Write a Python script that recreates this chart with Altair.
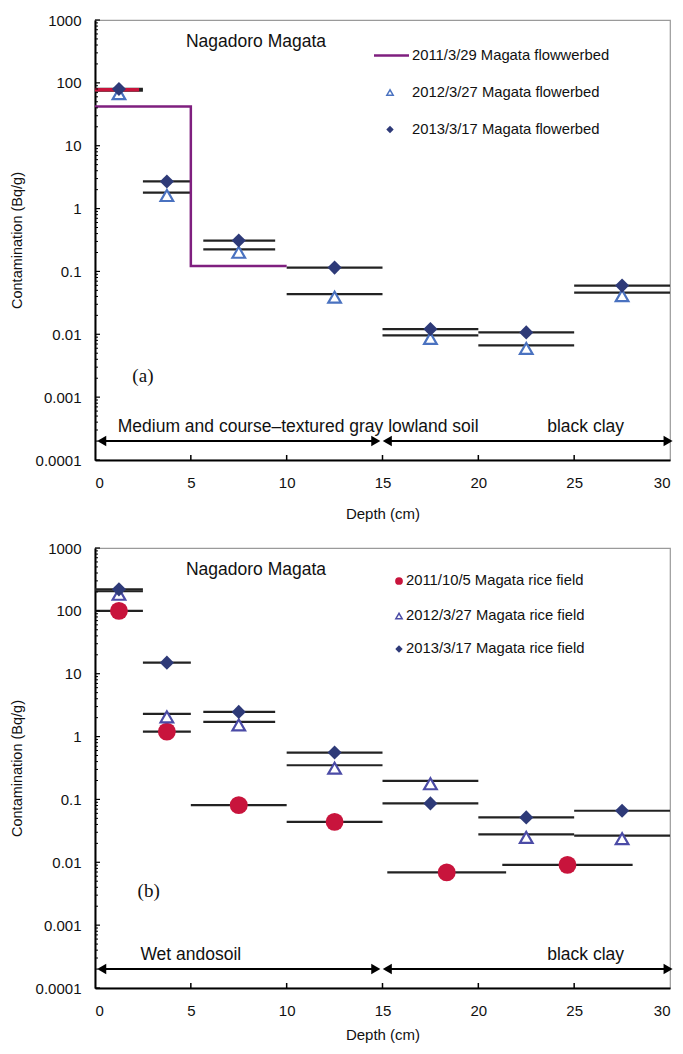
import altair as alt
import pandas as pd

FONT = "Liberation Sans"
W, H = 575, 440

# ---------------- data ----------------
# depth intervals of the horizontal bars (cm)
bar_lo = [0, 2.5, 5.65, 10, 15, 20, 25]
bar_hi = [2.5, 5, 9.4, 15, 20, 25, 30]
bar_mid = [1.25, 3.75, 7.5, 12.5, 17.5, 22.5, 27.5]

# (a) flowerbed
flower_2011_depth = [0, 5, 5, 10]
flower_2011_value = [42, 42, 0.122, 0.122]
flower_2011_top_lo = [0]
flower_2011_top_hi = [2.3]
flower_2011_top_val = [78]
flower_2012 = [75, 1.8, 0.225, 0.0435, 0.0096, 0.00665, 0.046]
flower_2013 = [80, 2.7, 0.31, 0.115, 0.0121, 0.0107, 0.0596]

# (b) rice field
rice_2011_lo = [0, 2.5, 5, 10, 15.25, 21.25]
rice_2011_hi = [2.5, 5, 10, 15, 21.45, 28.05]
rice_2011_mid = [1.25, 3.75, 7.5, 12.5, 18.35, 24.65]
rice_2011 = [100, 1.2, 0.081, 0.044, 0.0069, 0.0091]
rice_2012 = [205, 2.3, 1.71, 0.35, 0.198, 0.0278, 0.0265]
rice_2013 = [220, 15, 2.47, 0.557, 0.0865, 0.0518, 0.066]

# axis ticks
x_ticks = [0, 5, 10, 15, 20, 25, 30]
x_inner_ticks = [5, 10, 15, 20, 25]
y_decades = [0.0001, 0.001, 0.01, 0.1, 1, 10, 100, 1000]
y_minor = [m * d for d in y_decades[:-1] for m in range(2, 10)]

# soil annotation arrows
arrow_lo = [0.35, 15.25]
arrow_hi = [14.65, 29.9]
arrow_y = 0.0002

PURPLE = "#7f1f7f"
RED = "#c8143c"
NAVY = "#2e3a78"
TRI_A = "#4a72c0"
TRI_B = "#4b4ba6"
BAR = "#222222"

xs = alt.Scale(domain=[0, 30], nice=False, zero=False)
ys = alt.Scale(type="log", domain=[0.0001, 1000], nice=False)


def xaxis(title_pad):
    return alt.Axis(values=x_ticks, title="Depth (cm)", ticks=False,
                    labelFontSize=15, titleFontSize=15, labelFont=FONT, titleFont=FONT,
                    titleFontWeight="normal", labelPadding=15, titlePadding=title_pad,
                    domainColor="black", domainWidth=2, labelColor="#111", titleColor="#111",
                    grid=False)


def yaxis():
    return alt.Axis(values=y_decades, title="Contamination (Bq/g)", ticks=False,
                    labelExpr="format(datum.value, '~g')",
                    labelFontSize=15, titleFontSize=14.5, labelFont=FONT, titleFont=FONT,
                    titleFontWeight="normal", labelPadding=14, titlePadding=11,
                    domainColor="black", domainWidth=2, labelColor="#111", titleColor="#111",
                    grid=False)


def bars_df(lo, hi, vals):
    return pd.DataFrame({"lo": lo, "hi": hi, "v": vals})


def pts_df(mid, vals):
    return pd.DataFrame({"d": mid, "v": vals})


def bar_layer(df, title_pad, color=BAR, width=2.2):
    return alt.Chart(df).mark_rule(color=color, strokeWidth=width).encode(
        x=alt.X("lo:Q", scale=xs, axis=xaxis(title_pad)), x2="hi:Q",
        y=alt.Y("v:Q", scale=ys, axis=yaxis()))


def tri_layer(df, color):
    return alt.Chart(df).mark_point(shape="triangle-up", size=160, filled=True, fill="white",
                                    stroke=color, strokeWidth=2.2, opacity=1, yOffset=3).encode(
        x=alt.X("d:Q", scale=xs), y=alt.Y("v:Q", scale=ys))


def dia_layer(df):
    return alt.Chart(df).mark_point(shape="diamond", size=200, filled=True, color=NAVY,
                                    opacity=1).encode(
        x=alt.X("d:Q", scale=xs), y=alt.Y("v:Q", scale=ys))


def common_layers(label, letter_x, letter_y, left_text, left_x):
    frame_ticks_x = alt.Chart(pd.DataFrame({"t": x_inner_ticks})).mark_rule(
        color="black", strokeWidth=1.5).encode(
        x=alt.X("t:Q", scale=xs), y=alt.value(H), y2=alt.value(H - 5))
    major_y = alt.Chart(pd.DataFrame({"t": y_decades})).mark_rule(
        color="black", strokeWidth=1.2).encode(
        y=alt.Y("t:Q", scale=ys), x=alt.value(0), x2=alt.value(5))
    minor_y = alt.Chart(pd.DataFrame({"t": y_minor})).mark_rule(
        color="black", strokeWidth=1).encode(
        y=alt.Y("t:Q", scale=ys), x=alt.value(0), x2=alt.value(3))
    title = alt.Chart(pd.DataFrame({"t": ["Nagadoro Magata"]})).mark_text(
        font=FONT, fontSize=17.5, color="#111", align="center", baseline="middle").encode(
        text="t:N", x=alt.value(161), y=alt.value(22))
    letter = alt.Chart(pd.DataFrame({"t": [label], "x": [letter_x], "y": [letter_y]})).mark_text(
        font="Liberation Serif", fontSize=19, color="#111").encode(
        text="t:N", x=alt.X("x:Q", scale=xs), y=alt.Y("y:Q", scale=ys))
    adf = pd.DataFrame({"lo": arrow_lo, "hi": arrow_hi, "y": [arrow_y] * 2})
    arrows = alt.Chart(adf).mark_rule(color="black", strokeWidth=2).encode(
        x=alt.X("lo:Q", scale=xs), x2="hi:Q", y=alt.Y("y:Q", scale=ys))
    heads_l = alt.Chart(adf).mark_point(shape="triangle-left", size=110, filled=True,
                                        color="black", opacity=1).encode(
        x=alt.X("lo:Q", scale=xs), y=alt.Y("y:Q", scale=ys))
    heads_r = alt.Chart(adf).mark_point(shape="triangle-right", size=110, filled=True,
                                        color="black", opacity=1).encode(
        x=alt.X("hi:Q", scale=xs), y=alt.Y("y:Q", scale=ys))
    sdf = pd.DataFrame({"t": [left_text, "black clay"], "x": [left_x, 25.6],
                        "y": [0.00034, 0.00034]})
    soil = alt.Chart(sdf).mark_text(font=FONT, fontSize=17.5, color="#111").encode(
        text="t:N", x=alt.X("x:Q", scale=xs), y=alt.Y("y:Q", scale=ys))
    return [frame_ticks_x, major_y, minor_y, title, letter, arrows, heads_l, heads_r, soil]


def legend_rows(rows, text_x, marker_x, ys_px):
    layers = []
    for (kind, color, text), yy in zip(rows, ys_px):
        t = alt.Chart(pd.DataFrame({"t": [text]})).mark_text(
            font=FONT, fontSize=14.8, color="#111", align="left", baseline="middle").encode(
            text="t:N", x=alt.value(text_x), y=alt.value(yy))
        layers.append(t)
        if kind == "line":
            m = alt.Chart(pd.DataFrame({"t": [0]})).mark_rule(color=color, strokeWidth=2.5).encode(
                x=alt.value(text_x - 38), x2=alt.value(text_x - 3), y=alt.value(yy))
        elif kind == "tri":
            m = alt.Chart(pd.DataFrame({"t": [0]})).mark_point(
                shape="triangle-up", size=40, filled=True, fill="white", stroke=color,
                strokeWidth=1.5, opacity=1).encode(x=alt.value(marker_x), y=alt.value(yy))
        elif kind == "dia":
            m = alt.Chart(pd.DataFrame({"t": [0]})).mark_point(
                shape="diamond", size=55, filled=True, color=color, opacity=1).encode(
                x=alt.value(marker_x), y=alt.value(yy))
        else:
            m = alt.Chart(pd.DataFrame({"t": [0]})).mark_point(
                shape="circle", size=60, filled=True, color=color, opacity=1).encode(
                x=alt.value(marker_x), y=alt.value(yy))
        layers.append(m)
    return layers


# ---------------- panel (a) ----------------
step_df = pd.DataFrame({"d": flower_2011_depth, "v": flower_2011_value,
                        "o": list(range(len(flower_2011_depth)))})
step = alt.Chart(step_df).mark_line(color=PURPLE, strokeWidth=2.5).encode(
    x=alt.X("d:Q", scale=xs), y=alt.Y("v:Q", scale=ys), order="o:Q")

a_layers = [
    bar_layer(bars_df(bar_lo, bar_hi, flower_2012), 16),
    bar_layer(bars_df(bar_lo, bar_hi, flower_2013), 16),
    bar_layer(bars_df(flower_2011_top_lo, flower_2011_top_hi, flower_2011_top_val), 16, RED, 3.5),
    step,
    tri_layer(pts_df(bar_mid, flower_2012), TRI_A),
    dia_layer(pts_df(bar_mid, flower_2013)),
] + common_layers("(a)", 2.5, 0.0022, "Medium and course\u2013textured gray lowland soil", 10.6) + legend_rows(
    [("line", PURPLE, "2011/3/29 Magata flowwerbed"),
     ("tri", TRI_A, "2012/3/27 Magata flowerbed"),
     ("dia", NAVY, "2013/3/17  Magata  flowerbed")],
    317, 295, [35.5, 72.5, 109.5])

panel_a = alt.layer(*a_layers).properties(width=W, height=H)

# ---------------- panel (b) ----------------
b_layers = [
    bar_layer(bars_df(bar_lo, bar_hi, rice_2012), 9),
    bar_layer(bars_df(bar_lo, bar_hi, rice_2013), 9),
    bar_layer(bars_df(rice_2011_lo, rice_2011_hi, rice_2011), 9),
    alt.Chart(pts_df(rice_2011_mid, rice_2011)).mark_point(
        shape="circle", size=320, filled=True, color=RED, opacity=1).encode(
        x=alt.X("d:Q", scale=xs), y=alt.Y("v:Q", scale=ys)),
    tri_layer(pts_df(bar_mid, rice_2012), TRI_B),
    dia_layer(pts_df(bar_mid, rice_2013)),
] + common_layers("(b)", 2.8, 0.0035, "Wet andosoil", 5.0) + legend_rows(
    [("circ", RED, "2011/10/5 Magata rice field"),
     ("tri", TRI_B, "2012/3/27 Magata rice field"),
     ("dia", NAVY, "2013/3/17 Magata rice field")],
    311, 304, [33, 68, 101])

panel_b = alt.layer(*b_layers).properties(width=W, height=H)

chart = alt.vconcat(panel_a, panel_b, spacing=18).configure_view(
    stroke="#9a9a9a", strokeWidth=1.2).properties(
    padding={"left": 8, "top": 12, "right": 8, "bottom": 5}, background="white")

chart.save("out.html", embed_options={"renderer": "svg", "actions": False})
